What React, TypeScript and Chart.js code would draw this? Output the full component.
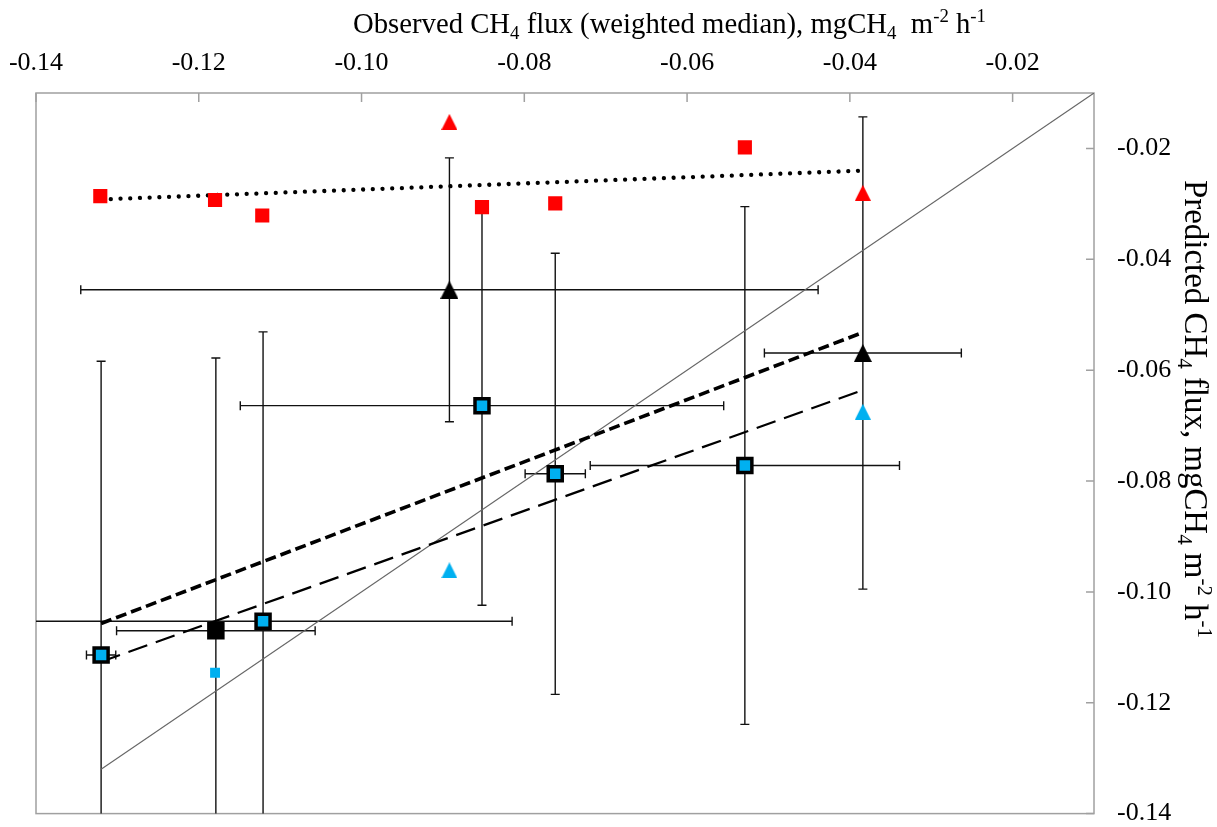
import React, { useEffect, useRef } from "react";
import { Chart, registerables } from "chart.js";

Chart.register(...registerables);

// ---- axis ticks ----
const xTicks = [-0.14, -0.12, -0.1, -0.08, -0.06, -0.04, -0.02];
const yTicks = [-0.14, -0.12, -0.1, -0.08, -0.06, -0.04, -0.02];

// ---- red markers ----
const redSquareX = [-0.1321, -0.118, -0.1122, -0.0852, -0.0762, -0.0529];
const redSquareY = [-0.0286, -0.0293, -0.0321, -0.0306, -0.0299, -0.0198];
const redTriX = [-0.0892, -0.0384];
const redTriY = [-0.0152, -0.028];

// ---- black triangles with error bars ----
const blackTriX = [-0.0892, -0.0384];
const blackTriY = [-0.0455, -0.0569];
const blackTriXErr = [0.0453, 0.0121];
const blackTriYErr = [0.0238, 0.0426];

// ---- blue squares (black outline) with error bars ----
const blueSqX = [-0.132, -0.1121, -0.0852, -0.0762, -0.0529];
const blueSqY = [-0.1114, -0.1053, -0.0664, -0.0787, -0.0772];
const blueSqXErr = [0.0018, 0.0306, 0.0297, 0.0037, 0.019];
const blueSqYErr = [0.053, 0.0522, 0.036, 0.0398, 0.0467];

// ---- black square with error bars ----
const blackSqX = [-0.1179];
const blackSqY = [-0.107];
const blackSqXErr = [0.0122];
const blackSqYErr = [0.0492];

// ---- small blue square and blue triangles ----
const smallBlueX = [-0.118];
const smallBlueY = [-0.1146];
const blueTriX = [-0.0892, -0.0384];
const blueTriY = [-0.0961, -0.0675];

// ---- trend lines ----
const trendX = [-0.132, -0.0384];
const dottedY = [-0.0292, -0.024];
const shortDashY = [-0.1057, -0.0532];
const longDashY = [-0.1126, -0.0636];
const identityXY = [-0.132, -0.01];

const AX_MIN = -0.14;
const AX_MAX = -0.01;

const FAMILY = '"Liberation Serif", "Times New Roman", serif';

type Piece = { t: string; k: "n" | "sub" | "sup" };
const topTitle: Piece[] = [
  { t: "Observed CH", k: "n" },
  { t: "4", k: "sub" },
  { t: " flux (weighted median), mgCH", k: "n" },
  { t: "4", k: "sub" },
  { t: "  m", k: "n" },
  { t: "-2", k: "sup" },
  { t: " h", k: "n" },
  { t: "-1", k: "sup" },
];
const rightTitle: Piece[] = [
  { t: "Predicted CH", k: "n" },
  { t: "4", k: "sub" },
  { t: " flux, mgCH", k: "n" },
  { t: "4", k: "sub" },
  { t: " m", k: "n" },
  { t: "-2", k: "sup" },
  { t: " h", k: "n" },
  { t: "-1", k: "sup" },
];

function zip(xs: number[], ys: number[]) {
  return xs.map((x, i) => ({ x, y: ys[i] }));
}

function makeTriangle(w: number, h: number, color: string) {
  const c = document.createElement("canvas");
  c.width = w;
  c.height = h;
  const ctx = c.getContext("2d")!;
  ctx.fillStyle = color;
  ctx.beginPath();
  ctx.moveTo(w / 2, 0);
  ctx.lineTo(w, h);
  ctx.lineTo(0, h);
  ctx.closePath();
  ctx.fill();
  return c;
}

function drawRich(
  ctx: CanvasRenderingContext2D,
  pieces: Piece[],
  size: number,
  target: number
) {
  const fontFor = (k: string) =>
    `${k === "n" ? size : Math.round(size * 0.65)}px ${FAMILY}`;
  let total = 0;
  for (const p of pieces) {
    ctx.font = fontFor(p.k);
    total += ctx.measureText(p.t).width;
  }
  const s = target / total;
  ctx.scale(s, 1);
  let x = 0;
  ctx.textBaseline = "alphabetic";
  ctx.textAlign = "left";
  ctx.fillStyle = "#000";
  for (const p of pieces) {
    ctx.font = fontFor(p.k);
    const dy = p.k === "sub" ? size * 0.22 : p.k === "sup" ? -size * 0.38 : 0;
    ctx.fillText(p.t, x, dy);
    x += ctx.measureText(p.t).width;
  }
}

const errorBarPlugin = {
  id: "errorBars",
  beforeDatasetsDraw(chart: any) {
    const ctx = chart.ctx as CanvasRenderingContext2D;
    const xs = chart.scales.x;
    const ys = chart.scales.y;
    const a = chart.chartArea;
    ctx.save();
    ctx.beginPath();
    ctx.rect(a.left, a.top, a.right - a.left, a.bottom - a.top);
    ctx.clip();
    ctx.strokeStyle = "#111";
    ctx.lineWidth = 1.4;
    const cap = 4.5;
    chart.data.datasets.forEach((ds: any) => {
      if (!ds.errX && !ds.errY) return;
      ds.data.forEach((pt: any, i: number) => {
        const px = xs.getPixelForValue(pt.x);
        const py = ys.getPixelForValue(pt.y);
        if (ds.errX) {
          const l = xs.getPixelForValue(pt.x - ds.errX[i]);
          const r = xs.getPixelForValue(pt.x + ds.errX[i]);
          ctx.beginPath();
          ctx.moveTo(l, py);
          ctx.lineTo(r, py);
          ctx.moveTo(l, py - cap);
          ctx.lineTo(l, py + cap);
          ctx.moveTo(r, py - cap);
          ctx.lineTo(r, py + cap);
          ctx.stroke();
        }
        if (ds.errY) {
          const t = ys.getPixelForValue(pt.y + ds.errY[i]);
          const b = ys.getPixelForValue(pt.y - ds.errY[i]);
          ctx.beginPath();
          ctx.moveTo(px, t);
          ctx.lineTo(px, b);
          ctx.moveTo(px - cap, t);
          ctx.lineTo(px + cap, t);
          ctx.moveTo(px - cap, b);
          ctx.lineTo(px + cap, b);
          ctx.stroke();
        }
      });
    });
    ctx.restore();
  },
};

const framePlugin = {
  id: "frame",
  beforeDatasetsDraw(chart: any) {
    const ctx = chart.ctx as CanvasRenderingContext2D;
    const a = chart.chartArea;
    const xs = chart.scales.x;
    const ys = chart.scales.y;
    ctx.save();
    ctx.strokeStyle = "#a0a0a0";
    ctx.lineWidth = 1.5;
    ctx.strokeRect(a.left, a.top, a.right - a.left, a.bottom - a.top);
    ctx.beginPath();
    xTicks.forEach((v) => {
      const px = xs.getPixelForValue(v);
      ctx.moveTo(px, a.top);
      ctx.lineTo(px, a.top + 9);
    });
    yTicks.forEach((v) => {
      const py = ys.getPixelForValue(v);
      ctx.moveTo(a.right, py);
      ctx.lineTo(a.right - 8, py);
    });
    ctx.stroke();
    ctx.restore();
  },
  afterDraw(chart: any) {
    const ctx = chart.ctx as CanvasRenderingContext2D;
    ctx.save();
    ctx.translate(353, 33);
    drawRich(ctx, topTitle, 29, 633);
    ctx.restore();
    ctx.save();
    ctx.translate(1185, 180);
    ctx.rotate(Math.PI / 2);
    drawRich(ctx, rightTitle, 33, 458);
    ctx.restore();
  },
};

export default function App() {
  const ref = useRef<HTMLCanvasElement | null>(null);

  useEffect(() => {
    const canvas = ref.current;
    if (!canvas) return;
    const redTri = makeTriangle(16, 16, "#FF0000");
    const blackTri = makeTriangle(18, 18, "#000000");
    const blueTri = makeTriangle(16, 16, "#00B0F0");

    const tickFont = { family: FAMILY, size: 26 };

    const chart = new Chart(canvas, {
      type: "scatter",
      data: {
        datasets: [
          {
            label: "Black triangles",
            data: zip(blackTriX, blackTriY),
            pointStyle: blackTri as any,
            pointRadius: 9,
            errX: blackTriXErr,
            errY: blackTriYErr,
            order: 1,
          } as any,
          {
            label: "Blue squares",
            data: zip(blueSqX, blueSqY),
            pointStyle: "rect",
            pointRadius: 9.9,
            backgroundColor: "#00B0F0",
            borderColor: "#000",
            borderWidth: 3.5,
            errX: blueSqXErr,
            errY: blueSqYErr,
            order: 2,
          } as any,
          {
            label: "Black square",
            data: zip(blackSqX, blackSqY),
            pointStyle: "rect",
            pointRadius: 9.9,
            backgroundColor: "#000",
            borderColor: "#000",
            borderWidth: 3.5,
            errX: blackSqXErr,
            errY: blackSqYErr,
            order: 3,
          } as any,
          {
            label: "Red squares",
            data: zip(redSquareX, redSquareY),
            pointStyle: "rect",
            pointRadius: 10,
            backgroundColor: "#FF0000",
            borderWidth: 0,
            order: 4,
          },
          {
            label: "Red triangles",
            data: zip(redTriX, redTriY),
            pointStyle: redTri as any,
            pointRadius: 8,
            order: 5,
          },
          {
            label: "Small blue square",
            data: zip(smallBlueX, smallBlueY),
            pointStyle: "rect",
            pointRadius: 7,
            backgroundColor: "#00B0F0",
            borderWidth: 0,
            order: 6,
          },
          {
            label: "Blue triangles",
            data: zip(blueTriX, blueTriY),
            pointStyle: blueTri as any,
            pointRadius: 8,
            order: 7,
          },
          {
            label: "Dotted trend",
            data: zip(trendX, dottedY),
            showLine: true,
            pointRadius: 0,
            borderColor: "#000",
            borderWidth: 4.3,
            borderDash: [0.01, 9.7],
            borderCapStyle: "round",
            order: 8,
          },
          {
            label: "Short-dash trend",
            data: zip(trendX, shortDashY),
            showLine: true,
            pointRadius: 0,
            borderColor: "#000",
            borderWidth: 3.6,
            borderDash: [11, 5],
            order: 9,
          },
          {
            label: "Long-dash trend",
            data: zip(trendX, longDashY),
            showLine: true,
            pointRadius: 0,
            borderColor: "#000",
            borderWidth: 2.3,
            borderDash: [20, 9],
            order: 10,
          },
          {
            label: "1:1",
            data: zip(identityXY, identityXY),
            showLine: true,
            pointRadius: 0,
            borderColor: "#666",
            borderWidth: 1.1,
            order: 11,
          },
        ],
      },
      options: {
        responsive: false,
        animation: false,
        events: [],
        layout: { padding: { left: 36, top: 0, right: 0, bottom: 10 } },
        plugins: {
          legend: { display: false },
          tooltip: { enabled: false },
          title: { display: false },
        },
        scales: {
          x: {
            type: "linear",
            position: "top",
            min: AX_MIN,
            max: AX_MAX,
            afterBuildTicks: (s: any) => {
              s.ticks = xTicks.map((v) => ({ value: v }));
            },
            afterFit: (s: any) => {
              s.height = 93;
              s.paddingLeft = 0;
              s.paddingRight = 0;
            },
            ticks: {
              callback: (v: any) => Number(v).toFixed(2),
              font: tickFont,
              color: "#000",
              padding: 14,
              maxRotation: 0,
              autoSkip: false,
            },
            grid: { display: false, drawTicks: false },
            border: { display: false },
          },
          y: {
            type: "linear",
            position: "right",
            min: AX_MIN,
            max: AX_MAX,
            afterBuildTicks: (s: any) => {
              s.ticks = yTicks.map((v) => ({ value: v }));
            },
            afterFit: (s: any) => {
              s.width = 123;
              s.paddingTop = 0;
              s.paddingBottom = 0;
            },
            ticks: {
              callback: (v: any) => Number(v).toFixed(2),
              font: tickFont,
              color: "#000",
              padding: 23,
              autoSkip: false,
            },
            grid: { display: false, drawTicks: false },
            border: { display: false },
          },
        },
      } as any,
      plugins: [framePlugin, errorBarPlugin],
    });
    return () => chart.destroy();
  }, []);

  return (
    <div
      style={{
        position: "absolute",
        left: 0,
        top: 0,
        width: 1217,
        height: 827,
        background: "#fff",
        overflow: "hidden",
      }}
    >
      <canvas ref={ref} width={1217} height={827} style={{ display: "block" }} />
    </div>
  );
}
